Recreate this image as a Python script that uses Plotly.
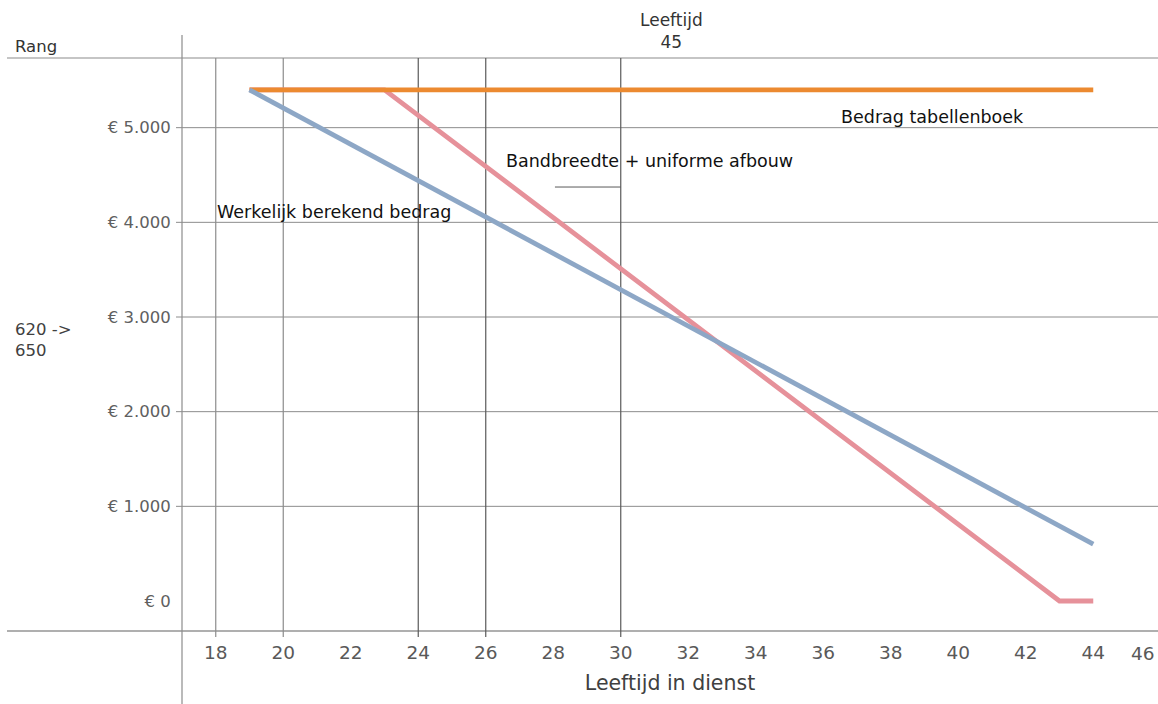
import plotly.graph_objects as go

# ---- data ----
age_tabel = [19, 44]
bedrag_tabel = [5400, 5400]

age_werkelijk = [19, 44]
bedrag_werkelijk = [5400, 600]

age_band = [19, 23, 43, 44]
bedrag_band = [5400, 5400, 0, 0]

x_ticks = [18, 20, 22, 24, 26, 28, 30, 32, 34, 36, 38, 40, 42, 44]
y_ticks = [0, 1000, 2000, 3000, 4000, 5000]
y_ticktext = ["€ 0", "€ 1.000", "€ 2.000", "€ 3.000", "€ 4.000", "€ 5.000"]
marker_ages = [18, 20, 24, 26, 30]

# ---- layout geometry (pixels) ----
W, H = 1158, 704
L, R, T, B = 182, 0, 58, 73
PW = W - L - R
PH = H - T - B


def px(p):
    return (p - L) / PW


def py(p):
    return (H - B - p) / PH


FONT = "DejaVu Sans"

fig = go.Figure()
fig.add_trace(go.Scatter(x=age_band, y=bedrag_band, mode="lines",
                         line=dict(color="#E6919A", width=4.8),
                         hoverinfo="skip", showlegend=False))
fig.add_trace(go.Scatter(x=age_tabel, y=bedrag_tabel, mode="lines",
                         line=dict(color="#EC8A30", width=4.8),
                         hoverinfo="skip", showlegend=False))
fig.add_trace(go.Scatter(x=age_werkelijk, y=bedrag_werkelijk, mode="lines",
                         line=dict(color="#8DA7C6", width=4.8),
                         hoverinfo="skip", showlegend=False))

shapes = []
# horizontal gridlines (not at 0)
for v in y_ticks:
    if v == 0:
        continue
    shapes.append(dict(type="line", xref="paper", yref="y",
                       x0=px(176), x1=1, y0=v, y1=v,
                       line=dict(color="#8C8C8C", width=1), layer="below"))
# top border
shapes.append(dict(type="line", xref="paper", yref="paper",
                   x0=px(7), x1=1, y0=1, y1=1,
                   line=dict(color="#8C8C8C", width=1.2), layer="below"))
# bottom axis line
shapes.append(dict(type="line", xref="paper", yref="paper",
                   x0=px(7), x1=1, y0=0, y1=0,
                   line=dict(color="#606060", width=1.2), layer="below"))
# vertical axis line
shapes.append(dict(type="line", xref="paper", yref="paper",
                   x0=0, x1=0, y0=py(704), y1=py(35),
                   line=dict(color="#8C8C8C", width=1.2), layer="below"))
# vertical marker lines
for a in marker_ages:
    col = "#8C8C8C" if a < 22 else "#5A5A5A"
    shapes.append(dict(type="line", xref="x", yref="paper",
                       x0=a, x1=a, y0=py(637), y1=1,
                       line=dict(color=col, width=1.2), layer="below"))
# short connector line under the label
shapes.append(dict(type="line", xref="x", yref="y",
                   x0=28.05, x1=30, y0=4373, y1=4373,
                   line=dict(color="#5A5A5A", width=1)))

ann = []


def text(x, y, s, size=17.5, color="#111111", xanchor="left", align="left"):
    ann.append(dict(xref="paper", yref="paper", x=px(x), y=py(y), text=s,
                    showarrow=False, xanchor=xanchor, yanchor="middle",
                    align=align, font=dict(family=FONT, size=size, color=color)))


text(13, 47, "Rang", size=16.5, color="#333333")
text(13, 340, "620 -><br>650", size=16.5, color="#404040")
text(671, 31, "Leeftijd<br>45", size=17, color="#333333", xanchor="center", align="center")
text(215, 212, "Werkelijk berekend bedrag")
text(504, 161, "Bandbreedte + uniforme afbouw")
text(839, 117, "Bedrag tabellenboek")
text(1157, 653, "46", size=18.5, color="#595959", xanchor="right", align="right")

fig.update_layout(
    width=W, height=H,
    margin=dict(l=L, r=R, t=T, b=B, pad=0),
    paper_bgcolor="white", plot_bgcolor="white",
    font=dict(family=FONT),
    shapes=shapes, annotations=ann,
    xaxis=dict(range=[17, 17 + PW / 33.75], tickvals=x_ticks,
               showgrid=False, zeroline=False, showline=False,
               ticks="outside", ticklen=5, tickcolor="rgba(0,0,0,0)",
               tickfont=dict(family=FONT, size=18.5, color="#595959"),
               title=dict(text="Leeftijd in dienst", standoff=13,
                          font=dict(family=FONT, size=20.5, color="#404040"))),
    yaxis=dict(range=[-317, 5736], tickvals=y_ticks, ticktext=y_ticktext,
               showgrid=False, zeroline=False, showline=False,
               ticks="outside", ticklen=7, tickcolor="rgba(0,0,0,0)",
               tickfont=dict(family=FONT, size=16.5, color="#606060")),
)

fig.write_html("out.html", config={"displayModeBar": False},
               post_script="document.body.style.margin='0';document.body.style.overflow='hidden';")
